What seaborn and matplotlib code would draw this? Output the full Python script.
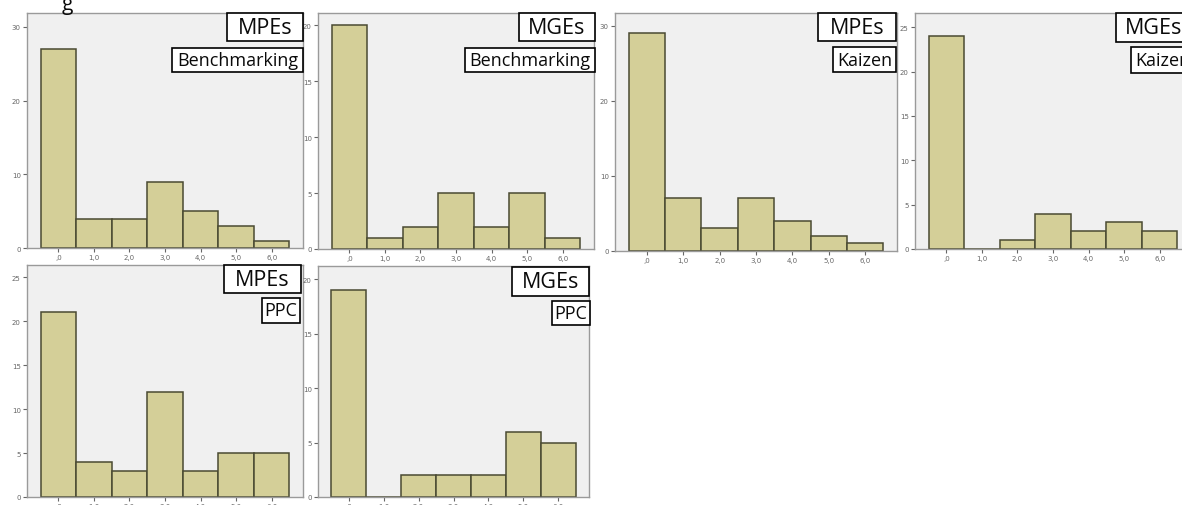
import numpy as np
import pandas as pd
import matplotlib.pyplot as plt
import seaborn as sns
from matplotlib.patches import Rectangle

# 각 패널 데이터 (빈도)
bins = [',0', '1,0', '2,0', '3,0', '4,0', '5,0', '6,0']
mpes_bench = [27, 4, 4, 9, 5, 3, 1]
mges_bench = [20, 1, 2, 5, 2, 5, 1]
mpes_kaizen = [29, 7, 3, 7, 4, 2, 1]
mges_kaizen = [24, 0, 1, 4, 2, 3, 2]
mpes_ppc = [21, 4, 3, 12, 3, 5, 5]
mges_ppc = [19, 0, 2, 2, 2, 6, 5]

group_labels = ['MPEs', 'MGEs', 'MPEs', 'MGEs', 'MPEs', 'MGEs']
tool_labels = ['Benchmarking', 'Benchmarking', 'Kaizen', 'Kaizen', 'PPC', 'PPC']

W, H = 1182, 506
fig = plt.figure(figsize=(W / 100, H / 100), dpi=100)
fig.patch.set_facecolor('white')

def px_axes(l, t, r, b):
    return fig.add_axes([l / W, 1 - b / H, (r - l) / W, (b - t) / H])

def px_box(l, t, r, b, text, size):
    fig.patches.append(Rectangle((l / W, 1 - b / H), (r - l) / W, (b - t) / H,
                                 transform=fig.transFigure, fc='white', ec='black', lw=1.2, zorder=5))
    fig.text((l + r) / 2 / W, 1 - (t + b) / 2 / H, text, ha='center', va='center',
             fontsize=size, family='Open Sans', color='#0a0a0a', zorder=6)

# (값, axes 위치, ylim, y 눈금, 박스1, 박스2)
panels = [
    (mpes_bench, (27, 14, 303, 249), 31.9, [0, 10, 20, 30], (227, 14, 303, 42), (172, 49, 303, 73)),
    (mges_bench, (318, 14, 594, 250), 21.1, [0, 5, 10, 15, 20], (519, 14, 595, 42), (465, 49, 595, 73)),
    (mpes_kaizen, (615, 14, 897, 252), 31.7, [0, 10, 20, 30], (818, 14, 896, 42), (833, 48, 896, 73)),
    (mges_kaizen, (915, 14, 1191, 250), 26.6, [0, 5, 10, 15, 20, 25], (1116, 14, 1192, 43), (1131, 48, 1194, 74)),
    (mpes_ppc, (27, 266, 303, 498), 26.4, [0, 5, 10, 15, 20, 25], (224, 266, 301, 294), (262, 299, 300, 324)),
    (mges_ppc, (318, 267, 589, 498), 21.2, [0, 5, 10, 15, 20], (512, 268, 589, 297), (552, 302, 590, 326)),
]

for i, (vals, pos, ytop, yt, box1, box2) in enumerate(panels):
    ax = px_axes(*pos)
    df = pd.DataFrame({'bin': bins, 'count': vals})
    sns.barplot(data=df, x='bin', y='count', width=1.0, color='#d4cf98',
                edgecolor='#4a4a32', linewidth=1.1, saturation=1, ax=ax)
    ax.set_facecolor('#f0f0f0')
    ax.set_xlim(-0.88, 6.88)
    ax.set_ylim(0, ytop)
    ax.set_yticks(yt)
    ax.set_xlabel('')
    ax.set_ylabel('')
    ax.tick_params(labelsize=5, colors='#666666', length=3, width=0.8, pad=1.5)
    for s in ax.spines.values():
        s.set_color('#9a9a9a')
        s.set_linewidth(1.0)
    px_box(*box1, group_labels[i], 15.5)
    px_box(*box2, tool_labels[i], 13)

# 위쪽에 잘린 캡션 글자
fig.text(67 / W, 1 + 6 / H, 'g', ha='center', va='top', fontsize=15, family='Open Sans', color='#0a0a0a')

fig.savefig('out.png', dpi=100)
